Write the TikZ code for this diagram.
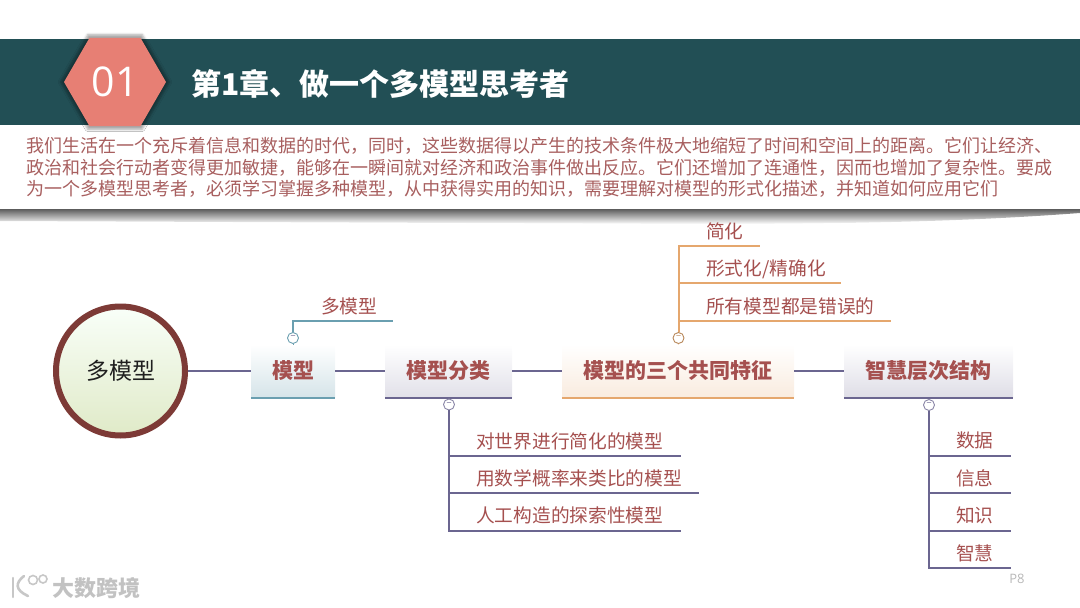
\documentclass[tikz,border=0pt]{standalone}
\usepackage{fontspec}
\setmainfont{Noto Sans CJK SC}
\newfontfamily\numfont{Open Sans}
\usepackage{tikz}
\usetikzlibrary{shapes.geometric,shadows.blur}

\definecolor{bannerteal}{HTML}{224F55}
\definecolor{hexsalmon}{HTML}{E77F74}
\definecolor{bodyred}{HTML}{A85F5F}
\definecolor{leafred}{HTML}{A5504F}
\definecolor{ringbrown}{HTML}{7D3A36}
\definecolor{linetaupe}{HTML}{6B6690}
\definecolor{lineteal}{HTML}{6A9FB0}
\definecolor{lineorange}{HTML}{E5A76E}

\begin{document}
\begin{tikzpicture}[
    x=1pt, y=-1pt,
    topic/.style={minimum height=53pt, inner sep=0pt, text=leafred, font=\fontsize{21}{21}\selectfont\bfseries},
    leaf/.style={anchor=west, inner sep=0pt, text=leafred, font=\fontsize{18.7}{18.7}\selectfont},
    link/.style={line width=1.8pt, linetaupe},
    branch/.style={line width=2pt, linetaupe},
    fold/.style={circle, draw=linetaupe!80, fill=white, line width=0.9pt, minimum size=11pt, inner sep=0pt, text=linetaupe, font=\fontsize{9}{9}\selectfont}
]
\useasboundingbox (0,0) rectangle (1080,608);

% header
\shade[top color=black!68, bottom color=white] (0,208) -- (1080,208) -- (1080,213) .. controls (1000,219) and (900,224) .. (700,224) -- (0,221) -- cycle;
\node[fill=white, minimum width=1080pt, minimum height=84pt, inner sep=0pt] (panel) at (540,166.5) {};
\node[fill=bannerteal, minimum width=1080pt, minimum height=86pt, inner sep=0pt] (banner) at (540,82) {};
\node[regular polygon, regular polygon sides=6, minimum size=102pt, inner sep=0pt, fill=hexsalmon, text=white, font=\fontsize{41}{41}\numfont, blur shadow={shadow xshift=0pt, shadow yshift=0pt, shadow scale=1.07, shadow opacity=35}] (badge) at (115,82) {01};
\node[anchor=west, inner sep=0pt, text=white, font=\fontsize{30}{30}\selectfont\bfseries] (title) at (191,84) {第1章、做一个多模型思考者};
\node[anchor=west, inner sep=0pt, align=left, text=bodyred, font=\fontsize{18}{21.6}\selectfont] (intro) at (26,167.5) {我们生活在一个充斥着信息和数据的时代，同时，这些数据得以产生的技术条件极大地缩短了时间和空间上的距离。它们让经济、\\政治和社会行动者变得更加敏捷，能够在一瞬间就对经济和政治事件做出反应。它们还增加了连通性，因而也增加了复杂性。要成\\为一个多模型思考者，必须学习掌握多种模型，从中获得实用的知识，需要理解对模型的形式化描述，并知道如何应用它们};

% main row
\node[circle, draw=ringbrown, line width=6pt, minimum size=129pt, inner sep=0pt, top color=white!70!green!8, bottom color=green!30!yellow!45!gray!30, text=black!88, font=\fontsize{23}{23}\selectfont] (hub) at (120.5,371) {多模型};
\node[topic, minimum width=84pt, top color=white, bottom color=lineteal!28] (t1) at (293,371) {模型};
\node[topic, minimum width=127pt, top color=white, bottom color=linetaupe!20] (t2) at (448.5,371) {模型分类};
\node[topic, minimum width=232pt, top color=white, bottom color=lineorange!22] (t3) at (678,371) {模型的三个共同特征};
\node[topic, minimum width=169pt, top color=white, bottom color=linetaupe!22] (t4) at (928.5,371) {智慧层次结构};

\draw[link] (hub) -- (t1);
\draw[link] (t1) -- (t2);
\draw[link] (t2) -- (t3);
\draw[link] (t3) -- (t4);
\draw[line width=2pt, lineteal] (t1.south west) -- (t1.south east);
\draw[branch] (t2.south west) -- (t2.south east);
\draw[line width=2pt, lineorange] (t3.south west) -- (t3.south east);
\draw[branch] (t4.south west) -- (t4.south east);

% model
\node[fold, draw=lineteal] (f1) at (293,338) {−};
\node[leaf] (m1) at (321,306) {多模型};
\coordinate (m1end) at (393,321);
\draw[line width=2pt, lineteal] (f1) |- (m1end);
\draw[lineteal, line width=1pt] (f1) -- (t1);

% kinds of model
\node[fold] (f2) at (449,404.5) {−};
\node[leaf] (k1) at (476,441) {对世界进行简化的模型};
\node[leaf] (k2) at (476,478) {用数学概率来类比的模型};
\node[leaf] (k3) at (476,515.5) {人工构造的探索性模型};
\coordinate (k1end) at (681,456);
\coordinate (k2end) at (699,493);
\coordinate (k3end) at (681,531);
\draw[branch] (f2) |- (k1end);
\draw[branch] (f2) |- (k2end);
\draw[branch] (f2) |- (k3end);

% three features
\node[fold, draw=lineorange!80!black, text=lineorange!80!black] (f3) at (678.5,338) {−};
\node[leaf] (c1) at (706,231) {简化};
\node[leaf] (c2) at (706,269) {形式化/精确化};
\node[leaf] (c3) at (706,306) {所有模型都是错误的};
\coordinate (c1end) at (760,246);
\coordinate (c2end) at (841,283);
\coordinate (c3end) at (891,321);
\draw[line width=2pt, lineorange] (f3) |- (c1end);
\draw[line width=2pt, lineorange] (f3) |- (c2end);
\draw[line width=2pt, lineorange] (f3) |- (c3end);
\draw[lineorange, line width=1pt] (f3) -- (t3);

% wisdom levels
\node[fold] (f4) at (929,405) {−};
\node[leaf] (w1) at (956,440.5) {数据};
\node[leaf] (w2) at (956,478) {信息};
\node[leaf] (w3) at (956,515.5) {知识};
\node[leaf] (w4) at (956,553) {智慧};
\coordinate (w1end) at (1011,456);
\coordinate (w2end) at (1011,493);
\coordinate (w3end) at (1011,531);
\coordinate (w4end) at (1011,568);
\draw[branch] (f4) |- (w1end);
\draw[branch] (f4) |- (w2end);
\draw[branch] (f4) |- (w3end);
\draw[branch] (f4) |- (w4end);

% page number and watermark
\node[inner sep=0pt, text=black!28, font=\fontsize{13}{13}\numfont] (page) at (1017,579) {P8};
\draw[black!22, line width=2.6pt, line cap=round] (13,578) -- (13,597);
\draw[black!22, line width=2.6pt, line cap=round] (24,576) .. controls (15,583) and (15,590) .. (28,596);
\draw[black!22, line width=1.6pt] (33,580) circle (4.5pt);
\draw[black!22, line width=1.6pt] (43,579) circle (4pt);
\node[anchor=west, inner sep=0pt, text=black!24, font=\fontsize{22}{22}\selectfont\bfseries] (mark) at (52,588) {大数跨境};
\end{tikzpicture}
\end{document}
